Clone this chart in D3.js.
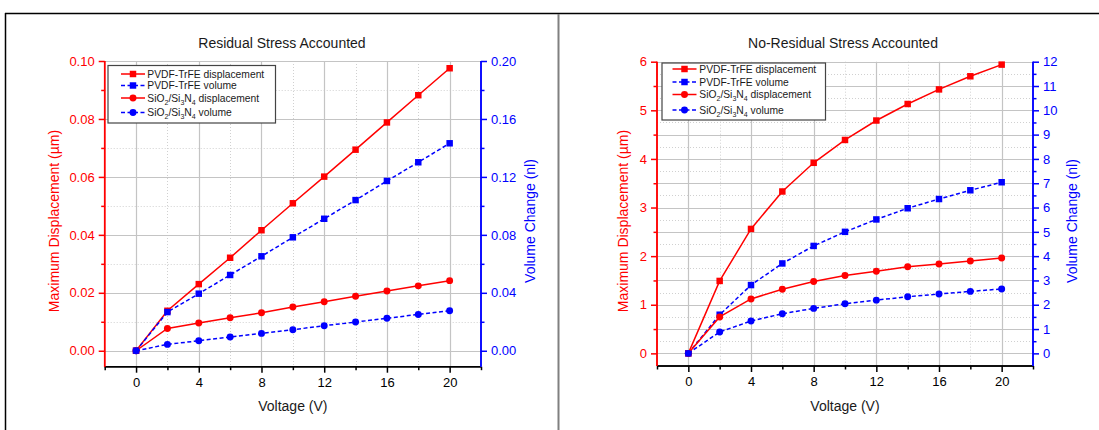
<!DOCTYPE html>
<html>
<head>
<meta charset="utf-8">
<script src="https://cdnjs.cloudflare.com/ajax/libs/d3/7.8.5/d3.min.js"></script>
<style>
  body { margin: 0; background: #fff; }
  svg { display: block; font-family: "Liberation Sans", Arial, sans-serif; }
</style>
</head>
<body>
<svg width="1099" height="430"></svg>
<script>
// voltages shared by both plots
var voltage = [0, 2, 4, 6, 8, 10, 12, 14, 16, 18, 20];

// residual stress accounted (left)
var rsPvdfDisp = [0, 0.0138, 0.0230, 0.0321, 0.0416, 0.0509, 0.0601, 0.0694, 0.0788, 0.0882, 0.0975];
var rsPvdfVol  = [0, 0.0267, 0.0394, 0.0523, 0.0652, 0.0783, 0.0911, 0.1040, 0.1172, 0.1301, 0.1432];
var rsSiDisp   = [0, 0.0077, 0.0096, 0.0114, 0.0131, 0.0151, 0.0169, 0.0188, 0.0206, 0.0224, 0.0242];
var rsSiVol    = [0, 0.0044, 0.0069, 0.0095, 0.0120, 0.0145, 0.0173, 0.0198, 0.0224, 0.0251, 0.0276];

// no residual stress accounted (right)
var nrPvdfDisp = [0, 1.49, 2.56, 3.33, 3.92, 4.39, 4.79, 5.13, 5.43, 5.70, 5.94];
var nrPvdfVol  = [0, 1.59, 2.81, 3.70, 4.42, 5.00, 5.51, 5.97, 6.35, 6.71, 7.04];
var nrSiDisp   = [0, 0.75, 1.12, 1.32, 1.48, 1.60, 1.69, 1.78, 1.84, 1.90, 1.96];
var nrSiVol    = [0, 0.88, 1.33, 1.63, 1.85, 2.04, 2.19, 2.33, 2.44, 2.55, 2.65];

var xMajor = [0, 4, 8, 12, 16, 20];
var xMinor = [-2, 2, 6, 10, 14, 18, 22];

var rsYMajor = [0, 0.02, 0.04, 0.06, 0.08, 0.10];
var rsYMinor = [0.01, 0.03, 0.05, 0.07, 0.09];
var rsY2Major = [0, 0.04, 0.08, 0.12, 0.16, 0.20];
var rsY2Minor = [0.02, 0.06, 0.10, 0.14, 0.18];

var nrYMajor = [0, 1, 2, 3, 4, 5, 6];
var nrYMinor = [0.5, 1.5, 2.5, 3.5, 4.5, 5.5];
var nrY2Major = [0, 1, 2, 3, 4, 5, 6, 7, 8, 9, 10, 11, 12];
var nrY2Minor = [0.5, 1.5, 2.5, 3.5, 4.5, 5.5, 6.5, 7.5, 8.5, 9.5, 10.5, 11.5];

var legendNames = ["PVDF-TrFE displacement", "PVDF-TrFE volume", "SiO2/Si3N4 displacement", "SiO2/Si3N4 volume"];

var RED = "#ff0000", BLUE = "#0000ff";

var svg = d3.select("svg");

// outer frame of the figure
svg.append("line").attr("x1", 5).attr("x2", 1099).attr("y1", 13.5).attr("y2", 13.5)
	.attr("stroke", "#000").attr("stroke-width", 1.5);
svg.append("line").attr("x1", 5.5).attr("x2", 5.5).attr("y1", 13).attr("y2", 430)
	.attr("stroke", "#000").attr("stroke-width", 1.5);
svg.append("line").attr("x1", 558.5).attr("x2", 558.5).attr("y1", 14).attr("y2", 430)
	.attr("stroke", "#808080").attr("stroke-width", 2);

var writeName = function(sel, name) {
	// SiO2/Si3N4 gets subscripts
	if (name.indexOf("SiO2") === 0) {
		var parts = [["SiO", 0], ["2", 1], ["/Si", 0], ["3", 1], ["N", 0], ["4", 1], [name.slice(10), 0]];
		parts.forEach(function(p) {
			var t = sel.append("tspan").text(p[0]);
			if (p[1]) t.attr("font-size", "7px").attr("dy", 3);
			else t.attr("dy", 0);
		});
		// reset baseline after subscripts
		sel.selectAll("tspan").each(function(d, i, nodes) {
			var t = d3.select(this);
			if (t.attr("font-size")) {
				var nxt = nodes[i + 1];
				if (nxt) d3.select(nxt).attr("dy", -3);
			}
		});
	} else {
		sel.text(name);
	}
};

var drawPanel = function(cfg) {
	var g = svg.append("g");

	var x = d3.scaleLinear().domain([-2, 22]).range([cfg.left, cfg.right]);
	var y = d3.scaleLinear().domain(cfg.yDomain).range([cfg.bottom, cfg.top]);
	var y2 = d3.scaleLinear().domain(cfg.y2Domain).range([cfg.bottom, cfg.top]);

	// grid
	var grid = g.append("g");
	grid.selectAll(".vmin").data([2, 6, 10, 14, 18]).enter().append("line")
		.attr("x1", function(d) { return Math.round(x(d)) + 0.5; })
		.attr("x2", function(d) { return Math.round(x(d)) + 0.5; })
		.attr("y1", cfg.top).attr("y2", cfg.bottom)
		.attr("stroke", "#d0d0d0").attr("stroke-dasharray", "1,2");
	grid.selectAll(".hmin").data(cfg.y2Minor).enter().append("line")
		.attr("x1", cfg.left).attr("x2", cfg.right)
		.attr("y1", function(d) { return Math.round(y2(d)) + 0.5; })
		.attr("y2", function(d) { return Math.round(y2(d)) + 0.5; })
		.attr("stroke", "#d0d0d0").attr("stroke-dasharray", "1,2");
	grid.selectAll(".vmaj").data(xMajor).enter().append("line")
		.attr("x1", function(d) { return Math.round(x(d)) + 0.5; })
		.attr("x2", function(d) { return Math.round(x(d)) + 0.5; })
		.attr("y1", cfg.top).attr("y2", cfg.bottom)
		.attr("stroke", "#c4c4c4").attr("stroke-width", 1.2);
	grid.selectAll(".hmaj").data(cfg.y2Major).enter().append("line")
		.attr("x1", cfg.left).attr("x2", cfg.right)
		.attr("y1", function(d) { return Math.round(y2(d)) + 0.5; })
		.attr("y2", function(d) { return Math.round(y2(d)) + 0.5; })
		.attr("stroke", "#c4c4c4").attr("stroke-width", 1.2);

	// axes
	var xAxis = d3.axisBottom(x).tickValues(xMajor).tickSize(6).tickPadding(5).tickFormat(d3.format("d"));
	var xAxisMinor = d3.axisBottom(x).tickValues(xMinor).tickSize(3.5).tickFormat("");
	var ax = g.append("g").attr("transform", "translate(0," + cfg.bottom + ")");
	ax.call(xAxisMinor);
	ax.append("g").call(xAxis);
	ax.selectAll("path, line").attr("stroke", "#000").attr("stroke-width", 1.5);
	ax.selectAll("text").attr("fill", "#000").attr("font-size", "13px");
	ax.selectAll(".domain").attr("d", "M" + cfg.left + ",0H" + cfg.right);

	var yAxis = d3.axisLeft(y).tickValues(cfg.yMajor).tickSize(6).tickPadding(4).tickFormat(d3.format(cfg.fmt));
	var yAxisMinor = d3.axisLeft(y).tickValues(cfg.yMinor).tickSize(3.5).tickFormat("");
	var ay = g.append("g").attr("transform", "translate(" + cfg.left + ",0)");
	ay.call(yAxisMinor);
	ay.append("g").call(yAxis);
	ay.selectAll("path, line").attr("stroke", RED).attr("stroke-width", 1.5);
	ay.selectAll("text").attr("fill", RED).attr("font-size", "13px");
	ay.selectAll(".domain").attr("d", "M0," + cfg.top + "V" + cfg.bottom);

	var y2Axis = d3.axisRight(y2).tickValues(cfg.y2Major).tickSize(6).tickPadding(4).tickFormat(d3.format(cfg.fmt));
	var y2AxisMinor = d3.axisRight(y2).tickValues(cfg.y2Minor).tickSize(3.5).tickFormat("");
	var ay2 = g.append("g").attr("transform", "translate(" + cfg.right + ",0)");
	ay2.call(y2AxisMinor);
	ay2.append("g").call(y2Axis);
	ay2.selectAll("path, line").attr("stroke", BLUE).attr("stroke-width", 1.5);
	ay2.selectAll("text").attr("fill", BLUE).attr("font-size", "13px");
	ay2.selectAll(".domain").attr("d", "M0," + cfg.top + "V" + cfg.bottom);

	// titles
	g.append("text").attr("x", cfg.titleX).attr("y", 48).attr("text-anchor", "middle")
		.attr("font-size", "14px").attr("fill", "#1a1a1a").text(cfg.title);
	g.append("text").attr("x", (cfg.left + cfg.right) / 2).attr("y", 411).attr("text-anchor", "middle")
		.attr("font-size", "14px").attr("fill", "#1a1a1a").text("Voltage (V)");
	g.append("text").attr("transform", "translate(" + cfg.yTitleX + ",221) rotate(-90)")
		.attr("text-anchor", "middle").attr("dy", "0.35em")
		.attr("font-size", "14px").attr("fill", RED).text("Maximum Displacement (\u00b5m)");
	g.append("text").attr("transform", "translate(" + cfg.y2TitleX + ",221) rotate(-90)")
		.attr("text-anchor", "middle").attr("dy", "0.35em")
		.attr("font-size", "14px").attr("fill", BLUE).text("Volume Change (nl)");

	// series
	var series = [
		{vals: cfg.series[0], sc: y, color: RED, dash: null, shape: "square"},
		{vals: cfg.series[1], sc: y2, color: BLUE, dash: "4,2.5", shape: "square"},
		{vals: cfg.series[2], sc: y, color: RED, dash: null, shape: "circle"},
		{vals: cfg.series[3], sc: y2, color: BLUE, dash: "4,2.5", shape: "circle"}
	];

	series.forEach(function(s) {
		var pts = voltage.map(function(v, i) { return [x(v), s.sc(s.vals[i])]; });
		g.append("path").attr("d", d3.line()(pts)).attr("fill", "none")
			.attr("stroke", s.color).attr("stroke-width", 1.5)
			.attr("stroke-dasharray", s.dash);
		var sym = d3.symbol().type(s.shape === "square" ? d3.symbolSquare : d3.symbolCircle)
			.size(s.shape === "square" ? 42 : 38);
		g.selectAll(null).data(pts).enter().append("path")
			.attr("d", sym)
			.attr("transform", function(p) { return "translate(" + p[0] + "," + p[1] + ")"; })
			.attr("fill", s.color);
	});

	// legend
	var lg = g.append("g");
	lg.append("rect").attr("x", cfg.legend.x + 0.5).attr("y", cfg.legend.y + 0.5)
		.attr("width", cfg.legend.w).attr("height", cfg.legend.h)
		.attr("fill", "#fff").attr("stroke", "#444").attr("stroke-width", 1.2);
	series.forEach(function(s, i) {
		var ly = cfg.legend.rows[i];
		lg.append("line").attr("x1", cfg.legend.lx1).attr("x2", cfg.legend.lx2)
			.attr("y1", ly).attr("y2", ly)
			.attr("stroke", s.color).attr("stroke-width", 1.5).attr("stroke-dasharray", s.dash);
		var sym = d3.symbol().type(s.shape === "square" ? d3.symbolSquare : d3.symbolCircle)
			.size(s.shape === "square" ? 42 : 38);
		lg.append("path").attr("d", sym)
			.attr("transform", "translate(" + ((cfg.legend.lx1 + cfg.legend.lx2) / 2) + "," + ly + ")")
			.attr("fill", s.color);
		var t = lg.append("text").attr("x", cfg.legend.tx).attr("y", ly + 3.7)
			.attr("font-size", "10.3px").attr("fill", "#1a1a1a");
		writeName(t, legendNames[i]);
	});
};

drawPanel({
	left: 104.7, right: 481, top: 61, bottom: 366.7,
	yDomain: [-0.0055, 0.1], y2Domain: [-0.011, 0.2],
	yMajor: rsYMajor, yMinor: rsYMinor, y2Major: rsY2Major, y2Minor: rsY2Minor,
	fmt: ".2f",
	title: "Residual Stress Accounted", titleX: 282,
	yTitleX: 53.6, y2TitleX: 530,
	series: [rsPvdfDisp, rsPvdfVol, rsSiDisp, rsSiVol],
	legend: {x: 107.5, y: 65, w: 167.5, h: 57.5, rows: [74, 85.5, 98, 112.5], lx1: 121, lx2: 145, tx: 147.3}
});

drawPanel({
	left: 657, right: 1033, top: 61.7, bottom: 366,
	yDomain: [-0.26, 6], y2Domain: [-0.52, 12],
	yMajor: nrYMajor, yMinor: nrYMinor, y2Major: nrY2Major, y2Minor: nrY2Minor,
	fmt: "d",
	title: "No-Residual Stress Accounted", titleX: 843,
	yTitleX: 623.5, y2TitleX: 1071.7,
	series: [nrPvdfDisp, nrPvdfVol, nrSiDisp, nrSiVol],
	legend: {x: 661.5, y: 62.5, w: 163.5, h: 57, rows: [69, 82, 94.5, 110], lx1: 672.5, lx2: 696.5, tx: 699.3}
});
</script>
</body>
</html>
